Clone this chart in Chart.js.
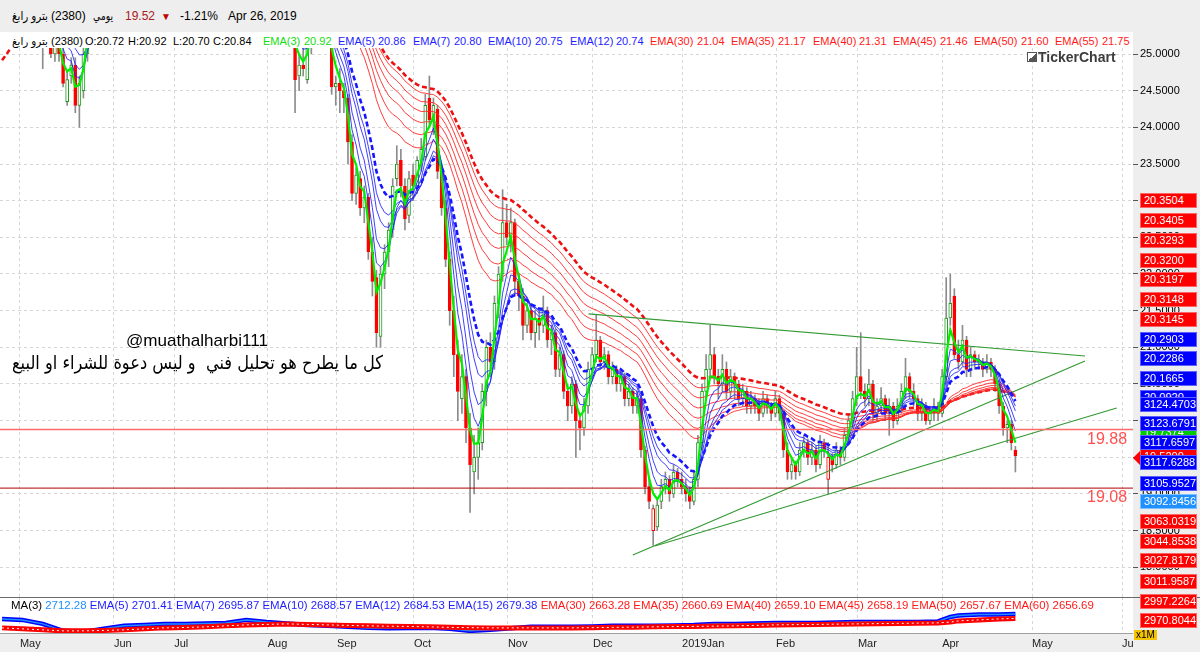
<!DOCTYPE html>
<html><head><meta charset="utf-8">
<script src="https://cdn.jsdelivr.net/npm/chart.js"></script>
<style>
body{margin:0;width:1200px;height:652px;background:#eeeeee;position:relative;overflow:hidden;font-family:'Liberation Sans','DejaVu Sans',Arial,sans-serif}
.t{position:absolute;white-space:pre}
.box{position:absolute;left:1140px;width:57px;height:15px;line-height:13px;color:#fff;font-size:11px;padding-left:3px;box-sizing:border-box;border:1px solid}
</style></head><body>
<div style="position:absolute;left:0;top:32px;width:1133px;height:601px;background:#fff"></div>
<canvas id="main" width="1200" height="549" style="position:absolute;left:0;top:48px"></canvas>
<canvas id="low" width="1200" height="55" style="position:absolute;left:0;top:597px"></canvas>
<div style="position:absolute;left:0;top:597px;width:1200px;height:1px;background:#6a6a6a"></div>
<div style="position:absolute;left:1133px;top:633px;width:67px;height:19px;background:#eeeeee"></div>
<script>
// ---------------- DATA ----------------
const monthTicks = [4.4, 27.5, 42.3, 65.3, 82.3, 101.2, 124.3, 145.2, 167.1, 190.2, 210.3, 231.0, 253.1, 275.2];
const monthLabels = ['May','Jun','Jul','Aug','Sep','Oct','Nov','Dec','2019Jan','Feb','Mar','Apr','May','Jun'];
const priceTicks = [18,18.5,19,19.5,20,20.5,21,21.5,22,22.5,23,23.5,24,24.5,25];
// daily candles [open, high, low, close]
const candles = [
[26.6,27.0,26.4,26.8],[26.8,27.4,26.7,27.2],[27.2,27.7,27.0,27.5],[27.5,27.6,27.0,27.3],[27.3,27.8,27.2,27.6],
[27.6,27.7,27.0,27.2],[27.2,27.3,26.6,26.8],[26.8,26.9,26.2,26.4],[26.4,26.5,25.8,26.0],[26.0,26.2,25.4,25.6],
[25.6,25.8,24.8,25.4],[25.4,25.7,25.1,25.5],[25.6,25.8,24.95,25.0],[25.0,25.5,24.9,25.3],[25.3,25.5,24.9,25.0],
[25.0,25.1,24.55,24.6],[24.35,24.75,24.3,24.65],[24.7,24.95,24.6,24.85],[24.85,24.95,24.2,24.3],[24.3,24.7,24.0,24.6],
[24.5,25.1,24.4,25.0],[25.0,25.7,24.9,25.6],[25.6,26.1,25.4,26.0],[26.0,26.4,25.8,26.2],[26.2,26.7,26.0,26.5],
[26.5,27.0,26.3,26.8],[26.8,27.0,26.4,26.6],[26.6,27.2,26.5,27.0],[27.0,27.5,26.8,27.3],[27.3,27.4,26.9,27.1],
[27.1,27.7,27.0,27.5],[27.5,28.0,27.3,27.8],[27.8,27.9,27.4,27.6],[27.6,27.7,27.2,27.4],[27.4,28.0,27.3,27.9],
[27.9,28.4,27.8,28.2],[28.2,28.3,27.9,28.0],[28.0,28.1,27.5,27.7],[27.7,28.0,27.6,27.9],[27.9,28.5,27.8,28.3],
[28.3,28.4,27.9,28.1],[28.1,28.2,27.6,27.8],[27.8,27.9,27.4,27.6],[27.6,28.0,27.5,27.9],[27.9,28.4,27.8,28.2],
[28.2,28.7,28.1,28.5],[28.5,28.6,28.2,28.3],[28.3,28.4,27.9,28.0],[28.0,28.1,27.6,27.8],[27.8,28.3,27.7,28.1],
[28.1,28.2,27.6,27.7],[27.7,27.8,27.3,27.4],[27.4,27.8,27.3,27.6],[27.6,27.7,27.1,27.2],[27.2,27.3,26.8,26.9],
[26.9,27.3,26.8,27.1],[27.1,27.2,26.7,26.8],[26.8,26.9,26.4,26.5],[26.5,26.9,26.4,26.7],[26.7,26.8,26.2,26.3],
[26.3,26.4,25.9,26.0],[26.0,26.4,25.9,26.2],[26.2,26.3,25.8,25.9],[25.9,26.0,25.5,25.6],[25.6,26.0,25.5,25.8],
[25.8,25.9,25.4,25.5],[25.5,26.6,25.4,26.4],[26.4,26.5,26.0,26.2],[26.2,26.4,25.9,26.0],[26.0,26.2,25.7,25.9],
[25.9,26.0,25.5,25.7],[25.7,25.8,25.2,25.4],[25.4,25.5,24.2,24.65],[24.7,25.0,24.5,24.85],[24.85,25.1,24.7,24.8],
[24.65,25.2,24.6,25.1],[25.1,25.7,25.0,25.6],[25.6,26.1,25.5,25.9],[25.9,26.2,25.7,26.0],[26.0,26.1,25.5,25.6],
[25.6,25.8,25.3,25.5],[25.4,25.5,24.45,24.55],[24.55,24.7,24.3,24.6],[24.6,24.8,24.2,24.5],[24.5,24.6,24.2,24.4],
[24.4,24.45,23.5,23.8],[23.8,23.9,23.0,23.1],[23.1,23.45,22.95,23.35],[23.3,23.4,22.8,22.9],[22.9,23.2,22.7,23.05],
[23.05,23.1,22.2,22.3],[22.3,22.5,21.7,21.9],[21.95,22.05,21.0,21.2],[21.15,22.1,21.0,22.0],[22.0,22.4,21.8,22.3],
[22.3,22.7,22.1,22.6],[22.6,23.3,22.5,23.2],[23.3,23.75,23.2,23.5],[23.55,23.7,23.05,23.2],[23.2,23.3,22.6,22.75],
[22.8,23.4,22.7,23.3],[23.35,23.5,23.0,23.2],[23.2,23.6,23.1,23.55],[23.55,23.85,23.4,23.7],[23.6,24.45,23.55,24.3],
[24.4,24.7,24.0,24.1],[24.1,24.4,23.9,24.3],[24.25,24.3,23.3,23.4],[23.4,23.5,22.8,22.9],[22.9,23.0,22.1,22.2],
[22.2,22.3,21.3,21.5],[21.5,21.7,20.6,20.9],[20.9,21.1,20.0,20.4],[20.3,20.9,20.1,20.6],[20.6,20.7,19.7,19.9],
[19.9,20.1,18.75,19.4],[19.3,19.8,19.0,19.5],[19.5,19.9,19.2,19.7],[19.7,20.5,19.6,20.4],[20.4,21.1,20.2,21.0],
[21.0,21.2,20.6,20.8],[20.8,21.7,20.7,21.6],[21.6,22.1,21.4,22.0],[22.0,23.15,21.9,22.7],[22.7,22.95,22.4,22.5],
[22.5,22.9,22.3,22.7],[22.7,22.75,21.7,21.9],[21.9,22.0,21.5,21.7],[21.7,21.8,21.1,21.3],[21.3,21.6,21.2,21.5],
[21.5,21.6,21.1,21.2],[21.2,21.5,21.0,21.4],[21.4,21.5,21.1,21.3],[21.3,21.7,21.2,21.5],[21.5,21.55,21.0,21.1],
[21.1,21.3,20.9,21.2],[21.2,21.25,20.6,20.7],[20.7,21.0,20.6,20.9],[20.9,20.95,20.3,20.4],[20.4,20.5,20.0,20.2],
[20.2,20.6,20.1,20.5],[20.5,20.55,19.5,20.0],[20.0,20.1,19.6,19.9],[19.9,20.3,19.8,20.2],[20.2,20.8,20.1,20.7],
[20.7,21.0,20.6,20.9],[20.9,21.45,20.8,21.1],[21.1,21.15,20.7,20.8],[20.8,21.0,20.7,20.9],[20.9,20.95,20.5,20.6],
[20.6,20.8,20.5,20.7],[20.7,20.75,20.4,20.5],[20.5,20.7,20.4,20.6],[20.6,20.65,20.2,20.3],[20.3,20.5,20.2,20.4],
[20.4,20.45,20.1,20.2],[20.2,20.4,20.1,20.3],[20.3,20.35,19.5,19.6],[19.6,19.65,19.0,19.1],[19.1,19.2,18.8,18.9],
[18.5,18.85,18.3,18.8],[18.55,18.95,18.5,18.85],[18.9,19.2,18.8,19.1],[19.1,19.3,19.0,19.2],[19.2,19.25,18.9,19.0],
[19.0,19.4,18.95,19.3],[19.3,19.35,19.1,19.2],[19.2,19.3,19.0,19.1],[19.1,19.2,18.9,19.0],[19.0,19.1,18.8,18.9],
[18.9,19.3,18.85,19.2],[19.2,19.8,19.1,19.7],[19.7,20.5,19.6,20.4],[20.4,20.9,20.3,20.7],[20.7,21.3,20.6,20.9],
[20.9,21.0,20.5,20.6],[20.6,20.7,20.3,20.5],[20.5,20.9,20.4,20.7],[20.7,20.8,20.3,20.4],[20.4,20.7,20.3,20.6],
[20.6,20.65,20.3,20.5],[20.5,20.55,20.2,20.3],[20.3,20.5,20.2,20.4],[20.4,20.45,20.1,20.2],[20.2,20.4,20.1,20.3],
[20.3,20.35,20.1,20.2],[20.2,20.3,20.0,20.1],[20.1,20.4,20.05,20.3],[20.3,20.35,20.1,20.2],[20.2,20.25,20.0,20.1],
[20.1,20.4,20.05,20.3],[20.3,20.35,20.0,20.1],[20.1,20.15,19.5,19.6],[19.6,19.7,19.2,19.3],[19.3,19.5,19.2,19.4],
[19.4,19.45,19.2,19.3],[19.3,19.7,19.25,19.6],[19.6,19.8,19.5,19.7],[19.7,19.75,19.4,19.5],[19.5,19.7,19.4,19.6],
[19.6,19.65,19.3,19.4],[19.4,19.8,19.35,19.7],[19.7,19.75,19.5,19.6],[19.2,19.7,19.0,19.5],[19.5,19.55,19.3,19.4],
[19.4,19.7,19.35,19.6],[19.6,19.65,19.4,19.5],[19.5,19.9,19.45,19.8],[19.8,20.1,19.7,20.0],[20.0,20.4,19.9,20.3],
[20.3,21.0,20.2,20.6],[20.6,21.2,20.3,20.4],[20.4,20.5,20.2,20.3],[20.3,20.7,20.2,20.5],[20.5,20.55,20.0,20.1],
[20.1,20.3,20.0,20.2],[20.2,20.45,20.1,20.3],[20.3,20.35,20.0,20.1],[20.1,20.3,19.8,20.2],[20.2,20.25,19.9,20.0],
[20.0,20.3,19.95,20.2],[20.2,20.5,20.1,20.4],[20.4,20.85,20.3,20.6],[20.6,20.65,20.3,20.4],[20.4,20.5,20.2,20.3],
[20.3,20.35,20.0,20.1],[20.1,20.3,20.0,20.2],[20.2,20.25,19.95,20.0],[20.0,20.2,19.95,20.1],[20.1,20.3,20.0,20.2],
[20.2,20.25,20.0,20.1],[20.1,20.7,20.05,20.6],[20.6,21.95,20.5,21.4],[21.4,22.0,21.3,21.6],[21.7,21.8,20.85,20.9],
[20.9,21.1,20.7,20.8],[20.8,21.3,20.75,21.1],[21.1,21.15,20.6,20.7],[20.7,21.0,20.6,20.9],[20.9,20.95,20.7,20.8],
[20.8,20.9,20.7,20.8],[20.8,20.85,20.6,20.7],[20.7,20.9,20.65,20.8],[20.8,20.85,20.6,20.7],[20.7,20.75,20.4,20.5],
[20.5,20.55,20.1,20.2],[20.2,20.25,19.8,19.9],[19.9,20.0,19.7,19.95],[19.95,20.0,19.6,19.7],[19.6,19.65,19.3,19.52]
];
const emaFast = 3;
const emaBlue = [5, 7, 10, 12];
const emaBlueDashed = 15;
const emaRed = [30, 35, 40, 45, 50, 55];
const emaRedDashed = 60;
// EMA values already reached before the first bar shown (period -> start value)
const emaStart = {3:26.7, 5:26.6, 7:26.5, 10:26.4, 12:26.3, 15:26.2, 30:26.1, 35:26.0, 40:25.9, 45:25.8, 50:25.75, 55:25.7, 60:24.85};
const levels = [19.88, 19.08];
// trend lines: [bar1, price1, bar2, price2]
const trendLines = [[144.1, 21.455, 266.1, 20.882], [155.0, 18.168, 266.1, 20.813], [160.4, 18.29, 273.9, 20.173]];
// lower panel readings
const lowerBars = [0,5,10,15,20,25,30,35,40,45,50,55,60,65,70,75,80,85,90,95,100,105,110,115,120,125,130,135,140,145,150,155,160,165,170,175,180,185,190,195,200,205,210,215,220,225,230,233,235,240,245,249];
const lowerShort = [2975,2944,2821,2606,2575,2668,2760,2790,2821,2821,2836,2852,2944,2882,2836,2790,2760,2729,2698,2683,2698,2698,2668,2606,2637,2683,2729,2729,2729,2744,2760,2760,2760,2775,2790,2821,2821,2836,2852,2852,2852,2867,2882,2882,2882,2882,2898,3036,3082,3113,3113,3124];
const lowerLong = [2698,2668,2637,2606,2606,2620,2637,2668,2698,2710,2729,2760,2790,2805,2821,2805,2790,2775,2760,2750,2744,2729,2714,2705,2698,2698,2698,2698,2698,2705,2714,2720,2729,2737,2744,2752,2760,2775,2790,2798,2805,2813,2821,2829,2836,2844,2852,2875,2913,2944,2975,2990];
// value flags on the right axis
const axisFlags = [
 ['20.0920','blue'],['19.7374','green'],['19.5200','red'],
 ['20.3504','red'],['20.3405','red'],['20.3293','red'],['20.3200','red'],['20.3197','red'],['20.3148','red'],['20.3145','red'],
 ['20.2903','blue'],['20.2286','blue'],['20.1665','blue'],['3124.4703','blue'],['3123.6791','blue'],['3117.6597','blue'],
 ['3117.6288','blue'],['3105.9527','blue'],['3092.8456','sky'],['3063.0319','red'],['3044.8538','red'],['3027.8179','red'],
 ['3011.9587','red'],['2997.2264','red'],['2970.8044','red']
];
const headerTexts = ['بترو رابغ','(2380)','يومي','19.52','▼','-1.21%','Apr 26, 2019'];
const legendMain = [['بترو رابغ','k'],['(2380)','k'],['O:20.72','k'],['H:20.92','k'],['L:20.70','k'],['C:20.84','k'],
 ['EMA(3)','g'],['20.92','g'],['EMA(5)','b'],['20.86','b'],['EMA(7)','b'],['20.80','b'],['EMA(10)','b'],['20.75','b'],['EMA(12)','b'],['20.74','b'],
 ['EMA(30)','r'],['21.04','r'],['EMA(35)','r'],['21.17','r'],['EMA(40)','r'],['21.31','r'],['EMA(45)','r'],['21.46','r'],['EMA(50)','r'],['21.60','r'],['EMA(55)','r'],['21.75','r']];
const legendLow = [['MA(3)','k'],['2712.28','s'],['EMA(5)','b'],['2701.41','b'],['EMA(7)','b'],['2695.87','b'],['EMA(10)','b'],['2688.57','b'],
 ['EMA(12)','b'],['2684.53','b'],['EMA(15)','b'],['2679.38','b'],['EMA(30)','r'],['2663.28','r'],['EMA(35)','r'],['2660.69','r'],
 ['EMA(40)','r'],['2659.10','r'],['EMA(45)','r'],['2658.19','r'],['EMA(50)','r'],['2657.67','r'],['EMA(60)','r'],['2656.69','r']];
const noteHandle = '@muathalharbi111';
const noteText = 'كل ما يطرح هو تحليل فني  و ليس دعوة للشراء او البيع';

// ---------------- LAYOUT ----------------
const headerX = [12, 51, 93, 125, 161, 180, 228];
const headerFit = [36, 0, 20, 0, 0, 0, 0];
const legendMainX = [12,51,85,128,173,213,263,304,338,378,413,454,488,535,570,616,650,697,731,778,813,859,893,940,974,1021,1055,1102];
const COL = {k:'#000000', g:'#10dd10', b:'#1e1eff', r:'#ff1a1a', s:'#1e90ff'};
const flagY = [397,432,456,200,220,240,260,279,299,319,339,358,378,404,423,442,462,483,501,521,541,560,581,601,620];

Chart.defaults.font.family = "'Liberation Sans', 'DejaVu Sans', Arial, sans-serif";
const XMIN = -0.5, XMAX = 277.9;
const closes = candles.map(c => c[3]);
function ema(period) {
  const a = 2 / (period + 1); let e = emaStart[period];
  return closes.map((c, i) => { e = e + a * (c - e); return {x: i, y: e}; });
}
const lineDs = (data, color, width, dash) => ({type:'line', data, borderColor:color, borderWidth:width, borderDash:dash||[], pointRadius:0, tension:0, order:0, clip:0});

const datasets = [];
datasets.push(lineDs(ema(emaFast), '#00ee00', 2.2));
levels.forEach((v, k) => datasets.push(lineDs([{x:XMIN,y:v},{x:XMAX,y:v}], k === 0 ? '#ff6a6a' : '#b00000', k === 0 ? 1.6 : 1)));
emaBlue.forEach(p => datasets.push(lineDs(ema(p), 'rgba(30,30,255,0.85)', 1)));
datasets.push(lineDs(ema(emaBlueDashed), '#1515ff', 2.6, [5,3]));
trendLines.forEach(t => datasets.push(lineDs([{x:t[0],y:t[1]},{x:t[2],y:t[3]}], '#339933', 1.2)));
emaRed.forEach(p => datasets.push(lineDs(ema(p), 'rgba(255,40,40,0.9)', 1)));
datasets.push(lineDs(ema(emaRedDashed), '#ee1010', 2.6, [5,3]));

const fills = [], borders = [];
candles.forEach((c, i) => {
  const prev = i ? candles[i-1][3] : c[0];
  const col = c[3] >= prev ? '#1f9a1f' : '#ff0000';
  borders.push(col);
  fills.push(c[3] > c[0] ? '#ffffff' : col);
});
datasets.push({type:'bar', data: candles.map((c,i)=>({x:i, y:[Math.min(c[0],c[3]), Math.max(c[0],c[3])]})),
  backgroundColor: fills, borderColor: borders, borderWidth:1, borderSkipped:false, barThickness:3, minBarLength:1, grouped:false, order:2, clip:0});
datasets.push({type:'bar', data: candles.map((c,i)=>({x:i, y:[c[2], c[1]]})),
  backgroundColor:'#8c8c8c', borderWidth:0, barThickness:1, grouped:false, order:3, clip:0});

new Chart(document.getElementById('main'), {
  type:'bar', data:{datasets},
  options:{responsive:false, animation:false, devicePixelRatio:1, events:[], layout:{padding:0},
    plugins:{legend:{display:false}, tooltip:{enabled:false}},
    scales:{
      x:{type:'linear', min:XMIN, max:XMAX, offset:false, grid:{color:'#d6d6d6', drawTicks:false, offset:false}, border:{display:false, dash:[3,3]},
         ticks:{display:false}, afterBuildTicks:s=>{s.ticks = monthTicks.map(v=>({value:v}));}, afterFit:s=>{s.height=0; s.paddingLeft=0; s.paddingRight=0;}},
      y:{position:'right', min:17.595, max:25.082, grid:{color:'#d6d6d6', tickColor:'#555', tickLength:5, tickBorderDash:[]}, border:{display:false, dash:[3,3]},
         ticks:{color:'#000', font:{size:11}, padding:2, autoSkip:false, callback:v=>Number(v).toFixed(4)},
         afterBuildTicks:s=>{s.ticks = priceTicks.map(v=>({value:v}));}, afterFit:s=>{s.width=67; s.paddingTop=0; s.paddingBottom=0;}}
    }}
});

const lowDatasets = [
  {type:'line', data: lowerLong.map((v,k)=>({x:lowerBars[k], y:v})), borderColor:'#ffffff', borderWidth:1, borderDash:[2,3], pointRadius:0, order:0},
  {type:'line', data: lowerLong.map((v,k)=>({x:lowerBars[k], y:v})), borderColor:'#ff0000', borderWidth:5, pointRadius:0, order:1},
  {type:'line', data: lowerShort.map((v,k)=>({x:lowerBars[k], y:v})), borderColor:'#1e90ff', borderWidth:1.5, pointRadius:0, order:2},
  {type:'line', data: lowerShort.map((v,k)=>({x:lowerBars[k], y:v})), borderColor:'#0000ff', borderWidth:4.5, pointRadius:0, order:3}
];
new Chart(document.getElementById('low'), {
  type:'line', data:{datasets: lowDatasets},
  options:{responsive:false, animation:false, devicePixelRatio:1, events:[], layout:{padding:0},
    plugins:{legend:{display:false}, tooltip:{enabled:false}},
    scales:{
      x:{type:'linear', min:XMIN, max:XMAX, offset:false, grid:{color:'#d6d6d6', drawTicks:false}, border:{display:true, color:'#a0a0a0', dash:[3,3]},
         ticks:{color:'#222', font:{size:11}, padding:4, align:'start', autoSkip:false, maxRotation:0, callback:(v,i)=>monthLabels[i]},
         afterBuildTicks:s=>{s.ticks = monthTicks.map(v=>({value:v}));}, afterFit:s=>{s.height=19; s.paddingLeft=0; s.paddingRight=0;}},
      y:{position:'right', min:2540, max:3650, grid:{display:false}, border:{display:false}, ticks:{display:false},
         afterFit:s=>{s.width=67; s.paddingTop=0; s.paddingBottom=0;}}
    }}
});

// ---------------- OVERLAY TEXT ----------------
function addText(txt, x, cy, size, color, extra) {
  const d = document.createElement('div'); d.className = 't'; d.textContent = txt;
  const lh = Math.round(size * 1.25);
  d.style.left = x + 'px'; d.style.top = (cy - lh / 2) + 'px'; d.style.fontSize = size + 'px';
  d.style.lineHeight = lh + 'px'; d.style.color = color;
  if (extra) Object.assign(d.style, extra);
  document.body.appendChild(d); return d;
}
function fitText(d, w) { const r = d.getBoundingClientRect().width; d.style.transformOrigin = 'left center'; d.style.transform = 'scaleX(' + (w / r) + ')'; }
// top bar
const headCol = ['#000','#000','#000','#a82020','#c00000','#000','#000'];
headerTexts.forEach((t,k)=>{ const d = addText(t, headerX[k], 16, k===4?10:12, headCol[k]); if (headerFit[k]) fitText(d, headerFit[k]); });
legendMain.forEach((t,k)=>{ const d = addText(t[0], legendMainX[k], 41, 11, COL[t[1]]); if (k === 0) fitText(d, 36); });
// lower legend as one flowing line
const low = addText('', 11, 605, 11, '#000');
legendLow.forEach((t,k)=>{ const s = document.createElement('span'); s.textContent = t[0] + ' '; s.style.color = COL[t[1]]; low.appendChild(s); });
fitText(low, 1086);
// logo
const ic = document.createElement('div');
Object.assign(ic.style, {position:'absolute', left:'1027px', top:'52px', width:'8px', height:'8px', border:'1px solid #555', background:'linear-gradient(135deg,#fff 50%,#555 50%)'});
document.body.appendChild(ic);
addText('TickerChart', 1038, 57, 14, '#3c3c3c', {fontWeight:'bold'});
// level labels
addText(levels[0].toFixed(2), 1087, 439, 16, '#ff5050');
addText(levels[1].toFixed(2), 1087, 497, 16, '#ff5050');
// note
fitText(addText(noteHandle, 126, 340, 17, '#000'), 142);
fitText(addText(noteText, 12, 362, 19, '#000', {fontFamily:"'DejaVu Sans', sans-serif"}), 371);
// right flags
const FLAG = {red:['#ff0000','#ff6666'], blue:['#0000ff','#6060ff'], sky:['#1e90ff','#7cc0ff'], green:['#00cc00','#66ee66']};
axisFlags.forEach((f,k)=>{
  const d = document.createElement('div'); d.className = 'box'; d.textContent = f[0];
  d.style.top = (flagY[k] - 7.5) + 'px'; d.style.background = FLAG[f[1]][0]; d.style.borderColor = FLAG[f[1]][1];
  document.body.appendChild(d);
});
// current price marker
const ar = document.createElement('div');
Object.assign(ar.style, {position:'absolute', left:'1133px', top:'451px', width:0, height:0, borderTop:'7px solid transparent', borderBottom:'7px solid transparent', borderRight:'7px solid #ff0000'});
document.body.appendChild(ar);
// multiplier tag
addText('x1M', 1134, 635, 10, '#000', {background:'#f5c400', padding:'0 2px', lineHeight:'10px', top:'630px'});
</script>
</body></html>
